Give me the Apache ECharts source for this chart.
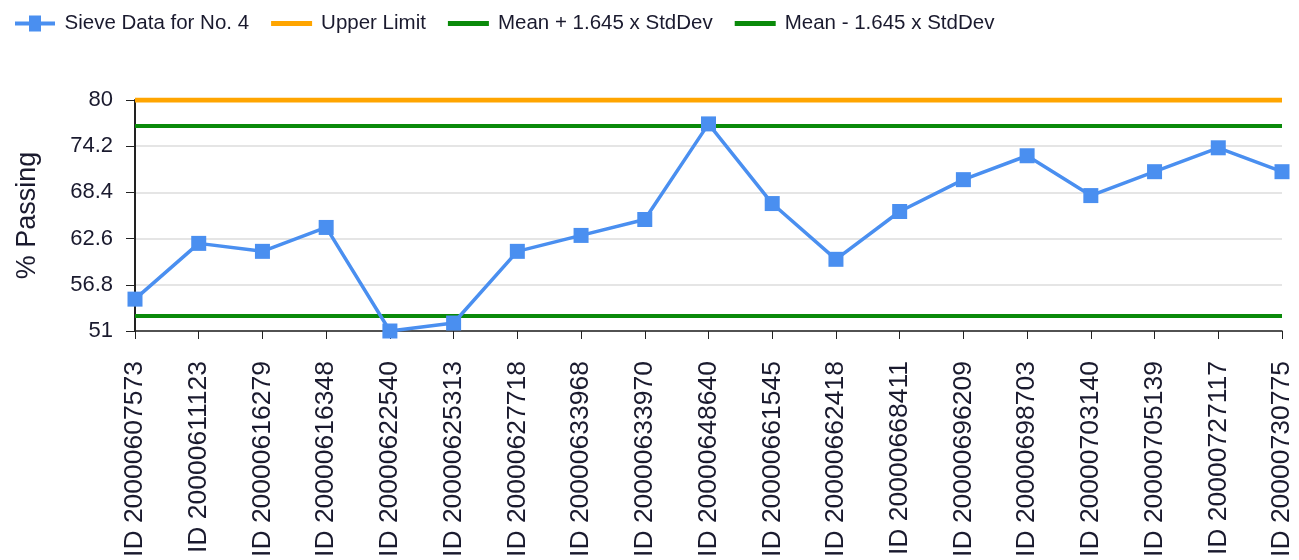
<!DOCTYPE html>
<html>
<head>
<meta charset="utf-8">
<script src="https://cdn.jsdelivr.net/npm/echarts@6/dist/echarts.min.js"></script>
<style>
html,body{margin:0;padding:0;background:#fff;}
#chart{width:1299px;height:560px;}
</style>
</head>
<body>
<div id="chart"></div>
<script>
const categories = ["ID 20000607573","ID 20000611123","ID 20000616279","ID 20000616348","ID 20000622540","ID 20000625313","ID 20000627718","ID 20000633968","ID 20000633970","ID 20000648640","ID 20000661545","ID 20000662418","ID 20000668411","ID 20000696209","ID 20000698703","ID 20000703140","ID 20000705139","ID 20000727117","ID 20000730775"];
const sieveData = [55, 62, 61, 64, 51, 52, 61, 63, 65, 77, 67, 60, 66, 70, 73, 68, 71, 74, 71];
const upperLimit = 80;
const meanPlus = 76.74;
const meanMinus = 52.88;
const yMin = 51, yMax = 80, yStep = 5.8;

const constSeries = v => categories.map(() => v);
const lineIcon = 'path://M0,0 L40,0 L40,5 L0,5 Z';
const markerIcon = 'path://M0,6 L14,6 L14,0 L26,0 L26,6 L40,6 L40,10 L26,10 L26,16 L14,16 L14,10 L0,10 Z';

const chart = echarts.init(document.getElementById('chart'));
chart.setOption({
  animation: false,
  legend: {
    left: 10, top: 8,
    itemWidth: 41, itemHeight: 16, itemGap: 22,
    textStyle: {fontFamily: 'Liberation Sans', fontSize: 20.5, color: '#1a1a2e', padding: [0, 0, 0, 4]},
    data: [
      {name: 'Sieve Data for No. 4', icon: markerIcon},
      {name: 'Upper Limit', icon: lineIcon},
      {name: 'Mean + 1.645 x StdDev', icon: lineIcon},
      {name: 'Mean - 1.645 x StdDev', icon: lineIcon}
    ]
  },
  grid: {left: 135, right: 17, top: 100, bottom: 229},
  xAxis: {
    type: 'category', data: categories, boundaryGap: false,
    axisLine: {lineStyle: {color: '#222', width: 1.5}},
    axisTick: {alignWithLabel: true, length: 8, lineStyle: {color: '#222'}},
    axisLabel: {rotate: 90, interval: 0, margin: 30, fontFamily: 'Liberation Sans', fontSize: 26.5, color: '#1a1a2e'}
  },
  yAxis: {
    type: 'value', min: yMin, max: yMax, interval: yStep,
    name: '% Passing', nameLocation: 'middle', nameGap: 94, nameRotate: 90,
    nameTextStyle: {fontFamily: 'Liberation Sans', fontSize: 27, color: '#1a1a2e'},
    axisLine: {show: true, lineStyle: {color: '#222', width: 2}},
    axisTick: {show: true, length: 9, lineStyle: {color: '#222'}},
    axisLabel: {margin: 22, fontFamily: 'Liberation Sans', fontSize: 22, color: '#1a1a2e',
      formatter: v => String(+v.toFixed(1))},
    splitLine: {lineStyle: {color: '#dddddd', width: 1.5}}
  },
  series: [
    {name: 'Sieve Data for No. 4', type: 'line', data: sieveData,
     symbol: 'rect', symbolSize: 15, z: 5,
     itemStyle: {color: '#4a8ff0'}, lineStyle: {color: '#4a8ff0', width: 3.5}},
    {name: 'Upper Limit', type: 'line', data: constSeries(upperLimit), symbol: 'none',
     itemStyle: {color: '#ffa500'}, lineStyle: {color: '#ffa500', width: 5}},
    {name: 'Mean + 1.645 x StdDev', type: 'line', data: constSeries(meanPlus), symbol: 'none',
     itemStyle: {color: '#0a8a0a'}, lineStyle: {color: '#0a8a0a', width: 4}},
    {name: 'Mean - 1.645 x StdDev', type: 'line', data: constSeries(meanMinus), symbol: 'none',
     itemStyle: {color: '#0a8a0a'}, lineStyle: {color: '#0a8a0a', width: 4}}
  ]
});
</script>
</body>
</html>
